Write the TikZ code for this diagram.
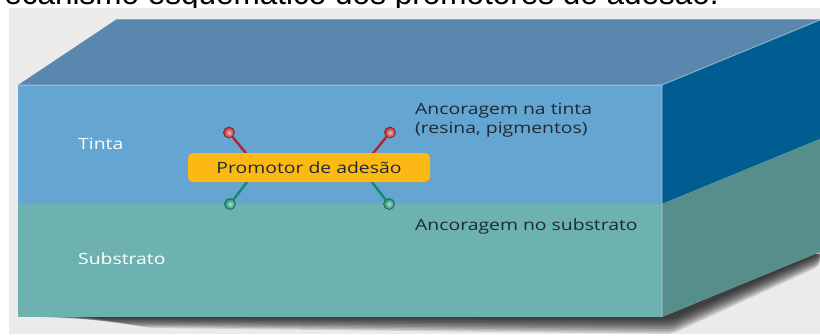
\documentclass[tikz,border=0pt]{standalone}
\usepackage{fontspec}
\setmainfont{Open Sans}[FakeStretch=1.25]
\newfontfamily\capfont{Liberation Sans}

\definecolor{panelgrey}{HTML}{EBEBEB}
\definecolor{topface}{HTML}{5A87AE}
\definecolor{inkfront}{HTML}{64A5D1}
\definecolor{inkside}{HTML}{005D92}
\definecolor{subfront}{HTML}{6DB2B0}
\definecolor{subside}{HTML}{568E8C}
\definecolor{promo}{HTML}{FDB913}
\definecolor{armred}{HTML}{B3262C}
\definecolor{armgreen}{HTML}{138A6C}
\definecolor{notetext}{HTML}{1E2A33}

\begin{document}
\begin{tikzpicture}[x=1pt, y=-1pt,
  layername/.style={font=\fontsize{15.5}{19}\selectfont, text=white, anchor=base west, inner sep=0pt},
  note/.style={font=\fontsize{15.5}{19}\selectfont, text=notetext, anchor=base west, inner sep=0pt},
  promobox/.style={fill=promo, rounded corners=5pt, minimum width=242pt, minimum height=29pt,
    inner sep=0pt, font=\fontsize{15.5}{19}\selectfont, text=notetext},
  endball/.style={circle, inner sep=0pt, minimum size=11pt, draw=#1!75!black, line width=0.6pt,
    inner color=white!70!#1, outer color=#1},
  arm/.style={line width=2.4pt, draw=#1}]
  \useasboundingbox (0,0) rectangle (820,335);
  \clip (0,0) rectangle (820,335);
  \node (caption) [font=\capfont\fontsize{31.5}{36}\selectfont, anchor=base east, inner sep=0pt]
    at (719,4.5) {ecanismo esquemático dos promotores de adesão.};
  \fill[panelgrey] (9,8) rectangle (820,334);
  % shadow under the block
  \foreach \s in {1,...,10}
    \fill[black, opacity=0.12, rounded corners=5pt]
      (30+6*\s,317) -- (662,317) -- (820,252) -- (820,252+1.4*\s)
      -- (672,317+1.7*\s) -- (90+6*\s,317+1.1*\s) -- cycle;
  % block
  \fill[topface] (18,85) -- (117,19) -- (820,19) -- (820,20) -- (662,85) -- cycle;
  \fill[inkside] (662,85) -- (820,20) -- (820,139) -- (662,204) -- cycle;
  \fill[subside] (662,204) -- (820,139) -- (820,252) -- (662,317) -- cycle;
  \fill[inkfront] (18,85) rectangle (662,204);
  \fill[subfront] (18,204) rectangle (662,317);
  \draw[white, opacity=0.4, line width=1pt]
    (18,85) -- (662,85) -- (662,317) (662,85) -- (820,20) (117,19) -- (820,19);

  % promoter molecules
  \coordinate (hubL) at (258,168);
  \coordinate (hubR) at (361,168);
  \node (redL) [endball=armred] at (229,132.5) {};
  \node (greenL) [endball=armgreen] at (230,204) {};
  \node (redR) [endball=armred] at (390,132.5) {};
  \node (greenR) [endball=armgreen] at (389,204) {};
  \draw[arm=armred] (redL) -- (hubL);
  \draw[arm=armgreen] (greenL) -- (hubL);
  \draw[arm=armred] (redR) -- (hubR);
  \draw[arm=armgreen] (greenR) -- (hubR);
  \node (promotor) [promobox] at (309,167.5) {Promotor de adesão};

  \node (tinta) [layername] at (78,149) {Tinta};
  \node (substrato) [layername] at (78,264) {Substrato};
  \node (anctinta) [note] at (415,114) {Ancoragem na tinta};
  \node (resina) [note] at (415,133) {(resina, pigmentos)};
  \node (ancsub) [note] at (415,230) {Ancoragem no substrato};
\end{tikzpicture}
\end{document}
